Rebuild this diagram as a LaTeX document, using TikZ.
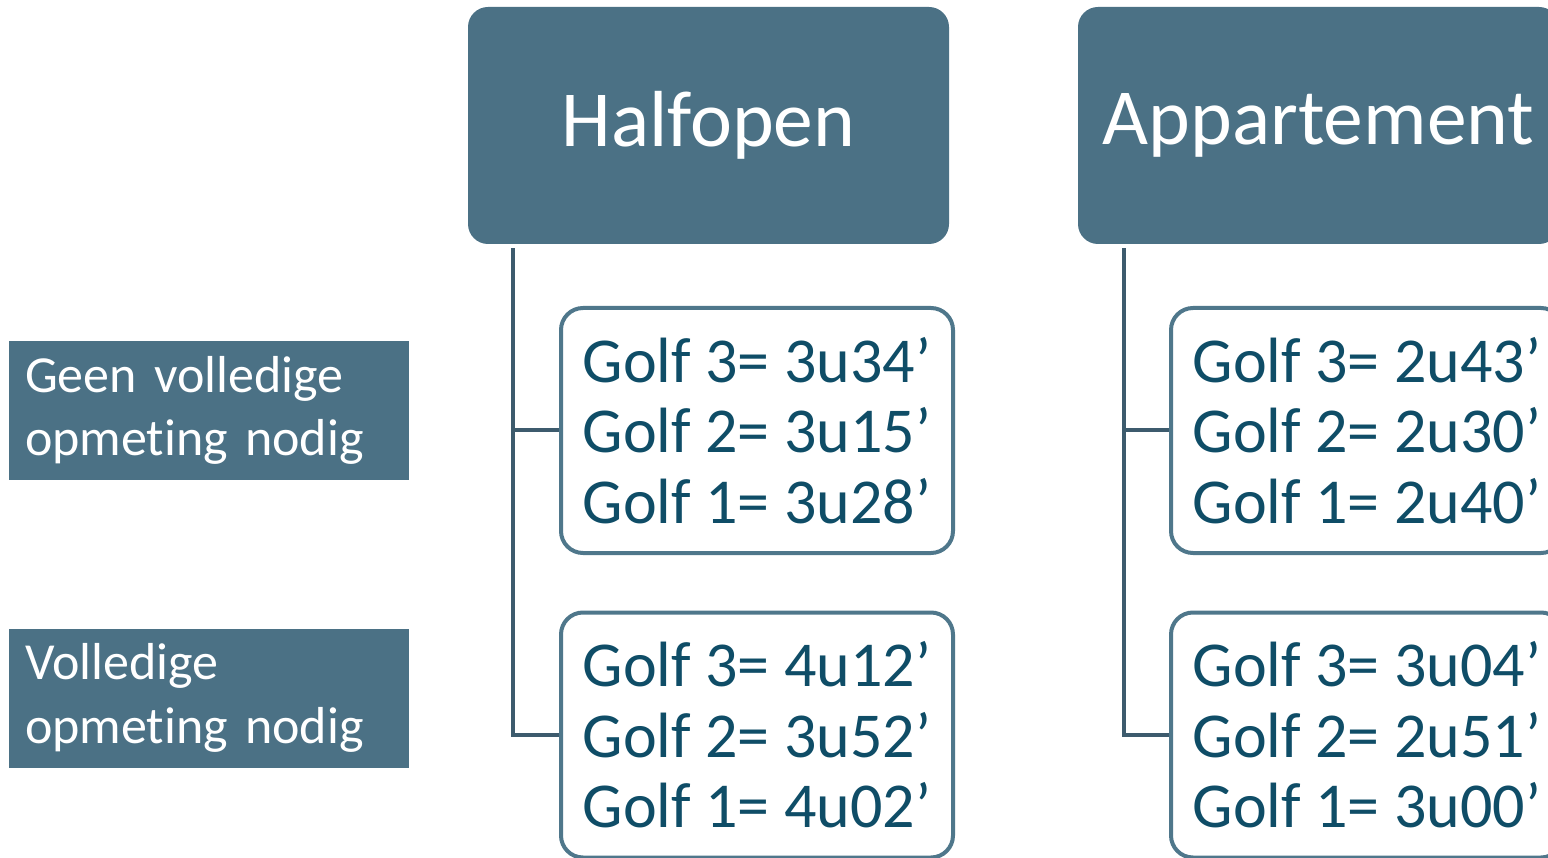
\documentclass[tikz,border=0pt]{standalone}
\usepackage{fontspec}
\setmainfont[Ligatures={NoCommon}]{Carlito}
\definecolor{headfill}{HTML}{4B7185}
\definecolor{golftext}{HTML}{0F4D67}
\definecolor{boxline}{HTML}{4F778B}
\definecolor{connline}{HTML}{3D5B6D}
\tikzset{
  head/.style={fill=headfill, draw=none, rounded corners=20pt, minimum width=481pt, minimum height=237pt, inner sep=0pt, text=white, font=\fontsize{79.5}{90}\selectfont},
  golfbox/.style={draw=boxline, line width=4pt, fill=white, rounded corners=22pt, minimum width=392pt, minimum height=245pt, inner sep=0pt, text=golftext, align=left, font=\fontsize{64}{70.5}\selectfont},
  sidelabel/.style={fill=headfill, draw=none, minimum width=400pt, minimum height=139pt, inner xsep=16pt, inner ysep=0pt, text=white, align=left, text width=368pt, font=\fontsize{52}{63.5}\selectfont},
  conn/.style={draw=connline, line width=4pt}
}
\begin{document}
\begin{tikzpicture}[x=1pt,y=-1pt]
\useasboundingbox (0,0) rectangle (1548,858);
\clip (0,0) rectangle (1548,858);
% headers
\node[head] (H) at (708.5,125.5) {Halfopen};
\node[head] (A) at (1318.5,125.5) {Appartement};
% side labels
\node[sidelabel] (L1) at (209,410.5) {Geen volledige\\opmeting nodig};
\node[sidelabel] (L2) at (209,698) {Volledige\\opmeting nodig};
% golf boxes
\node[golfbox] (H1) at (757,430.5) {Golf 3= 3u34’\\Golf 2= 3u15’\\Golf 1= 3u28’};
\node[golfbox] (H2) at (757,735) {Golf 3= 4u12’\\Golf 2= 3u52’\\Golf 1= 4u02’};
\node[golfbox] (A1) at (1367,430.5) {Golf 3= 2u43’\\Golf 2= 2u30’\\Golf 1= 2u40’};
\node[golfbox] (A2) at (1367,735) {Golf 3= 3u04’\\Golf 2= 2u51’\\Golf 1= 3u00’};
% connectors
\coordinate (Hs) at ([xshift=45pt,yshift=-4pt]H.south west);
\coordinate (As) at ([xshift=46pt,yshift=-4pt]A.south west);
\draw[conn] (Hs) |- (H2.west);
\draw[conn] (Hs |- H1.west) -- (H1.west);
\draw[conn] (As) |- (A2.west);
\draw[conn] (As |- A1.west) -- (A1.west);
\end{tikzpicture}
\end{document}
